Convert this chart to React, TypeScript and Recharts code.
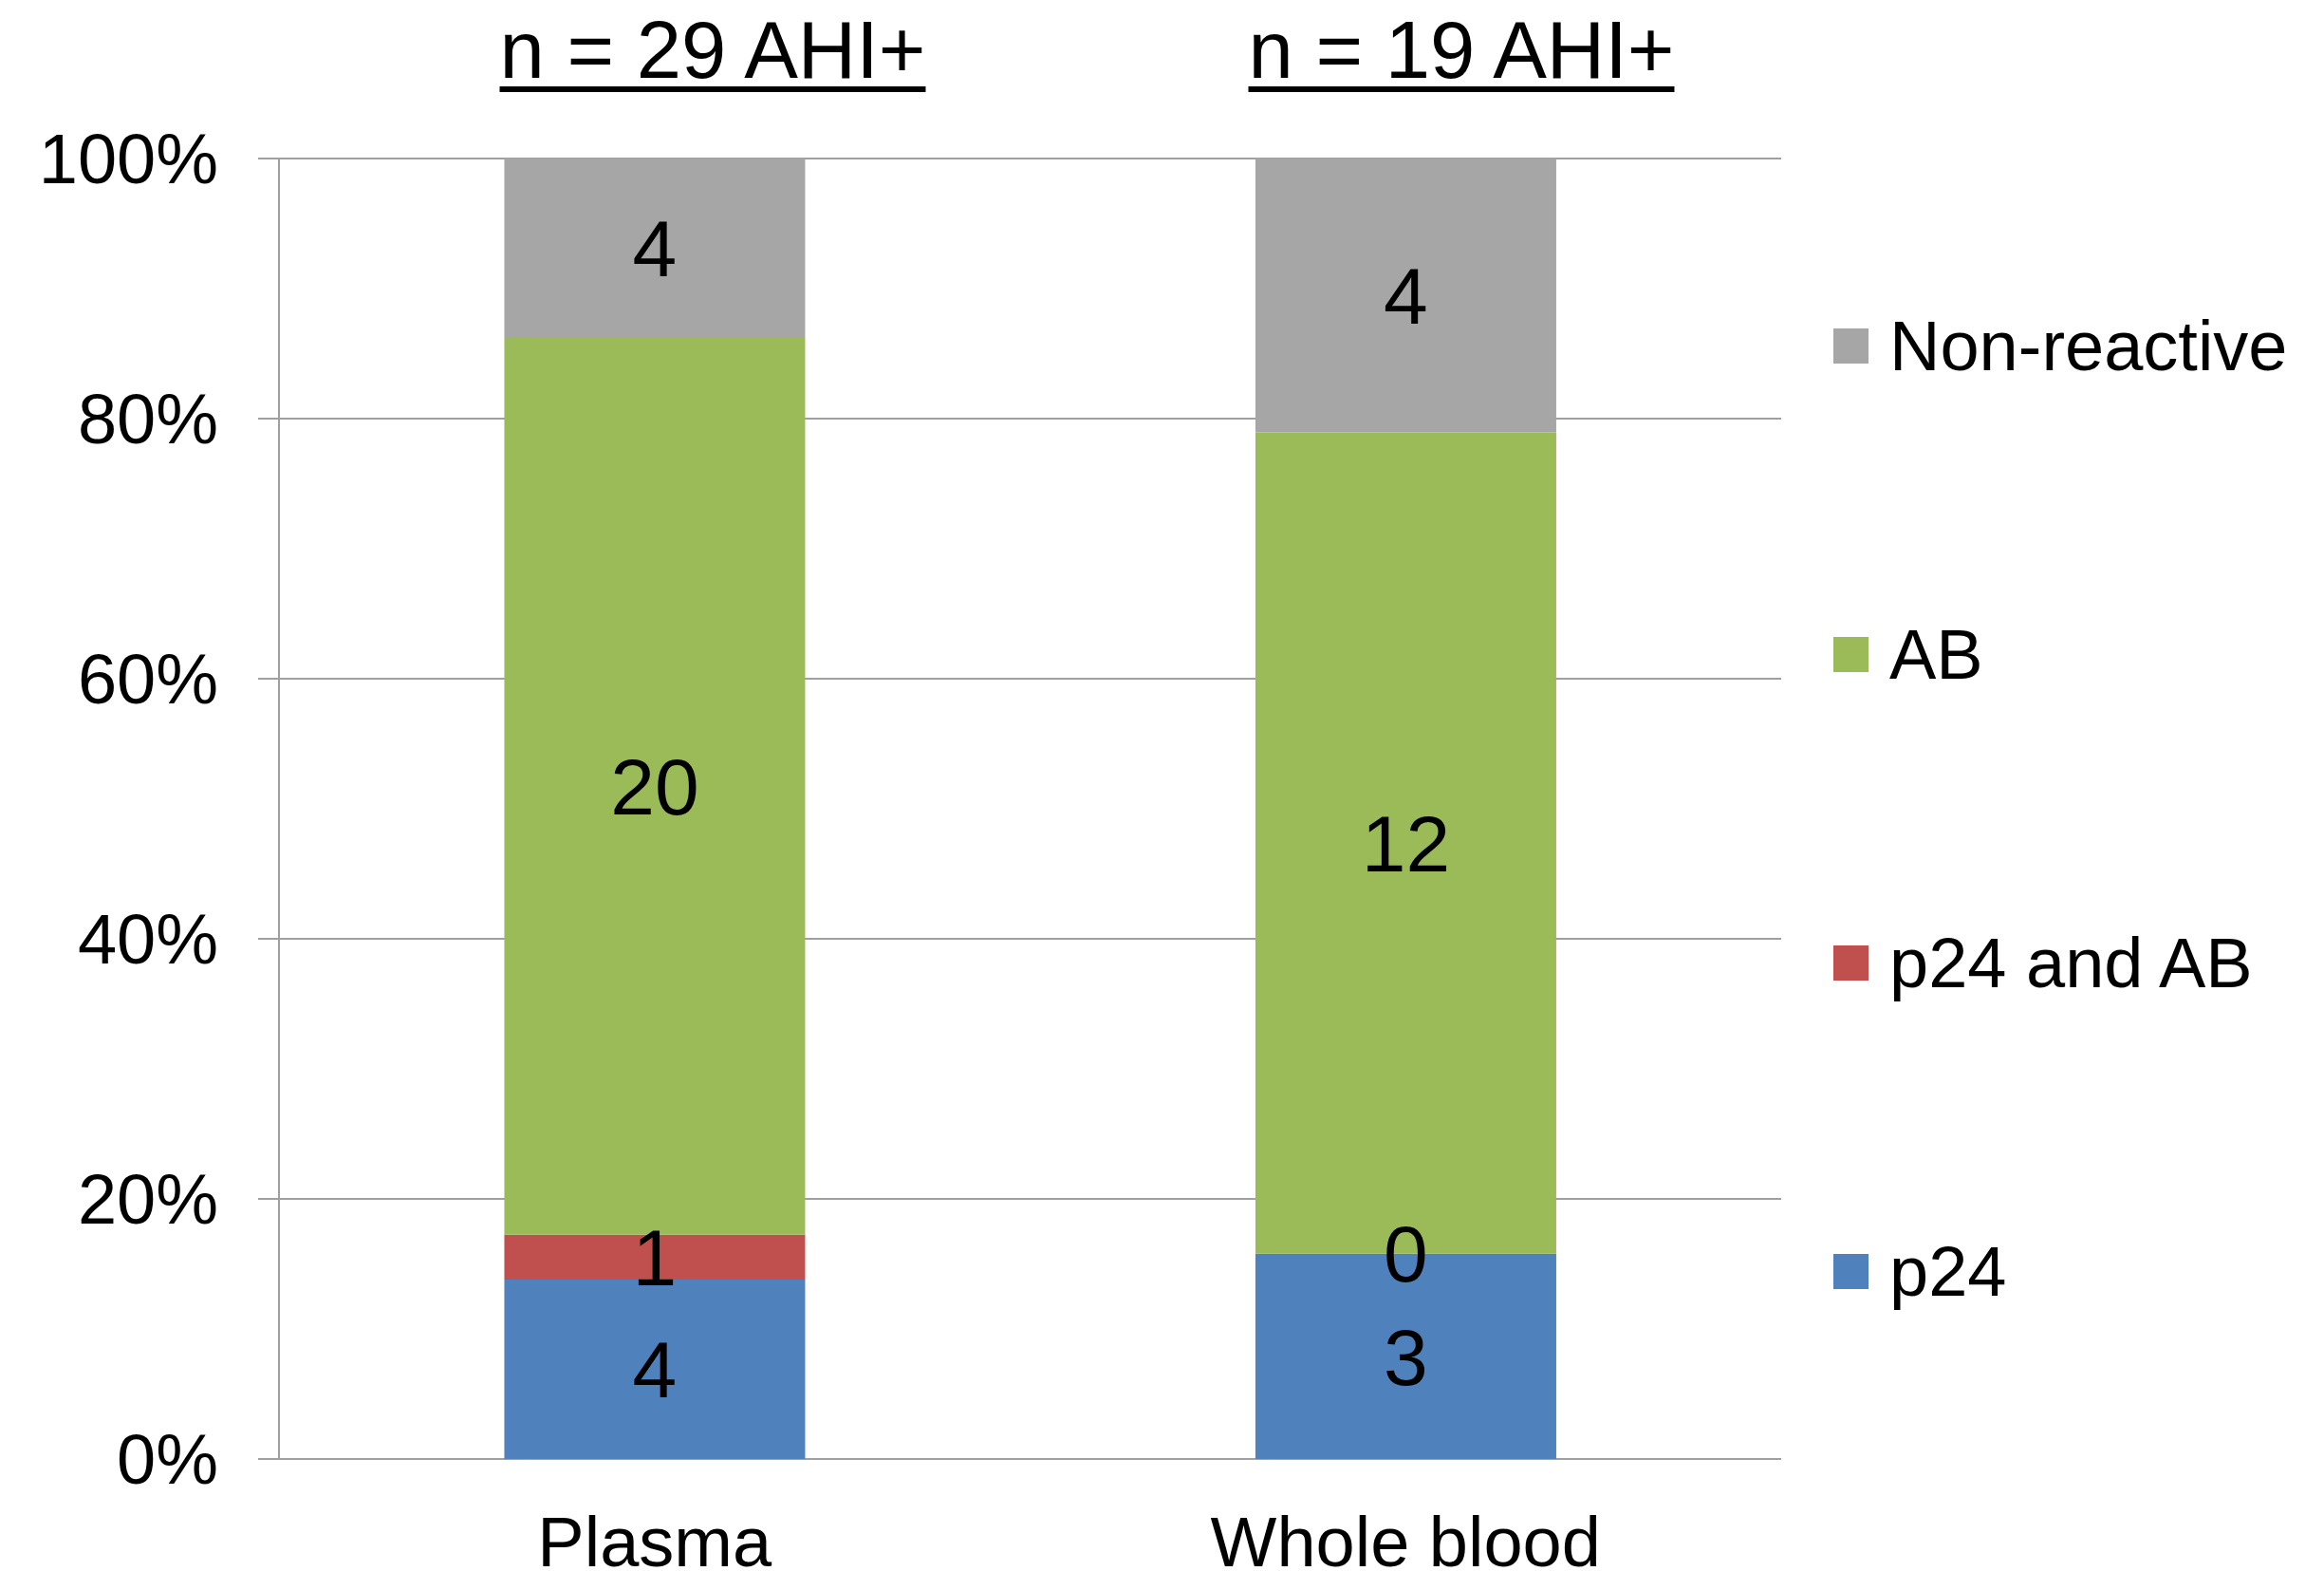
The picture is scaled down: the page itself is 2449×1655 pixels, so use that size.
import { BarChart, Bar, XAxis, YAxis, CartesianGrid, LabelList } from 'recharts';

const FONT = '"Liberation Sans", Arial, sans-serif';

const categories = ['Plasma', 'Whole blood'];
const p24 = [4, 3];
const p24AndAb = [1, 0];
const ab = [20, 12];
const nonReactive = [4, 4];
const titles = ['n = 29 AHI+', 'n = 19 AHI+'];
const yTicks = [0, 0.2, 0.4, 0.6, 0.8, 1];
const edgeTicks = [0, 1, 2];

const series = [
  { key: 'p24', name: 'p24', color: '#4F81BD' },
  { key: 'p24AndAb', name: 'p24 and AB', color: '#C0504D' },
  { key: 'ab', name: 'AB', color: '#9BBB59' },
  { key: 'nonReactive', name: 'Non-reactive', color: '#A6A6A6' },
];

const data = categories.map((name, i) => ({
  name,
  p24: p24[i],
  p24AndAb: p24AndAb[i],
  ab: ab[i],
  nonReactive: nonReactive[i],
}));

const gridColor = '#a0a0a0';
const titleCenters = [751, 1540];

export default function App() {
  return (
    <div style={{ position: 'absolute', left: 0, top: 0, width: 2449, height: 1655, background: '#fff', overflow: 'hidden', fontFamily: FONT }}>
      {titles.map((t, i) => (
        <div
          key={t}
          style={{
            position: 'absolute', top: 10, left: titleCenters[i] - 300, width: 600, textAlign: 'center',
            fontSize: 85, lineHeight: 1, color: '#000', whiteSpace: 'nowrap',
            textDecoration: 'underline', textDecorationThickness: '6px', textUnderlineOffset: '9px',
          }}
        >
          {t}
        </div>
      ))}

      <BarChart
        width={2449}
        height={1655}
        data={data}
        stackOffset="expand"
        barCategoryGap="30%"
        margin={{ top: 167, right: 572, bottom: 0, left: 0 }}
        style={{ fontFamily: FONT }}
      >
        <CartesianGrid xAxisId="cat" vertical={false} stroke={gridColor} strokeWidth={2} />
        <XAxis
          xAxisId="edge"
          type="number"
          domain={[0, 2]}
          ticks={edgeTicks}
          height={0}
          tick={() => <g />}
          tickSize={22}
          axisLine={{ stroke: gridColor, strokeWidth: 2 }}
          tickLine={{ stroke: gridColor, strokeWidth: 2 }}
        />
        <XAxis
          xAxisId="cat"
          dataKey="name"
          height={118}
          interval={0}
          axisLine={false}
          tickLine={false}
          tickSize={0}
          tickMargin={60}
          tick={{ fill: '#000', fontSize: 74 }}
        />
        <YAxis
          domain={[0, 1]}
          ticks={yTicks}
          width={294}
          tickFormatter={(v: number) => `${Math.round(v * 100)}%`}
          tick={{ fill: '#000', fontSize: 74 }}
          tickSize={22}
          tickMargin={42}
          axisLine={{ stroke: gridColor, strokeWidth: 2 }}
          tickLine={{ stroke: gridColor, strokeWidth: 2 }}
        />
        {series.map(s => (
          <Bar
            key={s.key}
            xAxisId="cat"
            dataKey={s.key}
            name={s.name}
            stackId="a"
            fill={s.color}
            minPointSize={0.01}
            isAnimationActive={false}
          >
            <LabelList dataKey={s.key} position="center" fill="#000" fontSize={84} />
          </Bar>
        ))}
      </BarChart>

      <div style={{ position: 'absolute', left: 1932, top: 202, width: 517 }}>
        {[...series].reverse().map(s => (
          <div key={s.key} style={{ height: 325, display: 'flex', alignItems: 'center' }}>
            <div style={{ width: 37, height: 37, background: s.color, marginRight: 22, flexShrink: 0 }} />
            <span style={{ fontSize: 74, lineHeight: 1, color: '#000', whiteSpace: 'nowrap' }}>{s.name}</span>
          </div>
        ))}
      </div>
    </div>
  );
}
